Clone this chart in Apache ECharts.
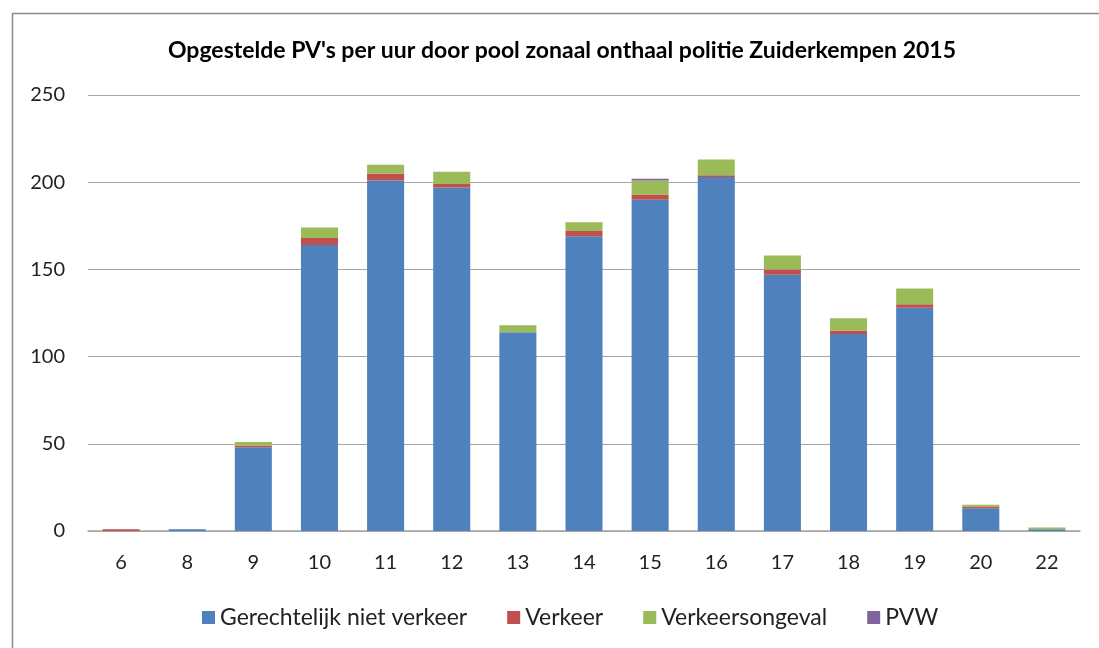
<!DOCTYPE html>
<html>
<head>
<meta charset="utf-8">
<script src="https://cdn.jsdelivr.net/npm/echarts@6/dist/echarts.min.js"></script>
<style>
  html, body { margin: 0; padding: 0; background: #fff; }
  #chart { width: 1099px; height: 648px; }
</style>
</head>
<body>
<div id="chart"></div>
<script>
const hours = ['6', '8', '9', '10', '11', '12', '13', '14', '15', '16', '17', '18', '19', '20', '22']
const gerechtelijk = [0, 1, 48, 164, 201, 197, 114, 169, 190, 203, 147, 113, 128, 13, 1]
const verkeer = [1, 0, 1, 4, 4, 2, 0, 3, 3, 1, 3, 2, 2, 1, 0]
const verkeersongeval = [0, 0, 2, 6, 5, 7, 4, 5, 8, 9, 8, 7, 9, 1, 1]
const pvw = [0, 0, 0, 0, 0, 0, 0, 0, 1, 0, 0, 0, 0, 0, 0]
const yTicks = [0, 50, 100, 150, 200, 250]

const font = 'Lato, "Open Sans", sans-serif'
const chart = echarts.init(document.getElementById('chart'))

function bar(name, data, color) {
    return {
        name: name,
        type: 'bar',
        stack: 'pv',
        barWidth: '56%',
        itemStyle: { color: color },
        data: data
    }
}

chart.setOption({
    animation: false,
    textStyle: { fontFamily: font },
    graphic: [{
        type: 'rect',
        shape: { x: 12.5, y: 13.5, width: 1100, height: 660 },
        style: { fill: 'none', stroke: '#8c8c8c', lineWidth: 1.5 }
    }],
    title: {
        text: "Opgestelde PV's per uur door pool zonaal onthaal politie Zuiderkempen 2015",
        left: 557,
        top: 34,
        textAlign: 'center',
        textStyle: { fontFamily: font, fontSize: 23, fontWeight: 'bold', color: '#000' }
    },
    legend: {
        bottom: 14,
        left: 197,
        icon: 'rect',
        itemWidth: 13,
        itemHeight: 13,
        itemGap: 40,
        textStyle: { fontFamily: font, fontSize: 23, color: '#222' },
        data: ['Gerechtelijk niet verkeer', 'Verkeer', 'Verkeersongeval', 'PVW']
    },
    grid: { left: 88, right: 19, top: 95, bottom: 117 },
    xAxis: {
        type: 'category',
        data: hours,
        axisTick: { show: false },
        axisLine: { lineStyle: { color: '#a6a6a6', width: 1.5 } },
        axisLabel: { fontFamily: font, fontSize: 20, color: '#222', margin: 22 }
    },
    yAxis: {
        type: 'value',
        min: yTicks[0],
        max: yTicks[yTicks.length - 1],
        interval: 50,
        axisLine: { show: false },
        axisTick: { show: false },
        splitLine: { lineStyle: { color: '#a6a6a6', width: 1 } },
        axisLabel: { fontFamily: font, fontSize: 20, color: '#222', margin: 23 }
    },
    series: [
        bar('Gerechtelijk niet verkeer', gerechtelijk, '#4F81BD'),
        bar('Verkeer', verkeer, '#C0504D'),
        bar('Verkeersongeval', verkeersongeval, '#9BBB59'),
        bar('PVW', pvw, '#8064A2')
    ]
})
</script>
</body>
</html>
